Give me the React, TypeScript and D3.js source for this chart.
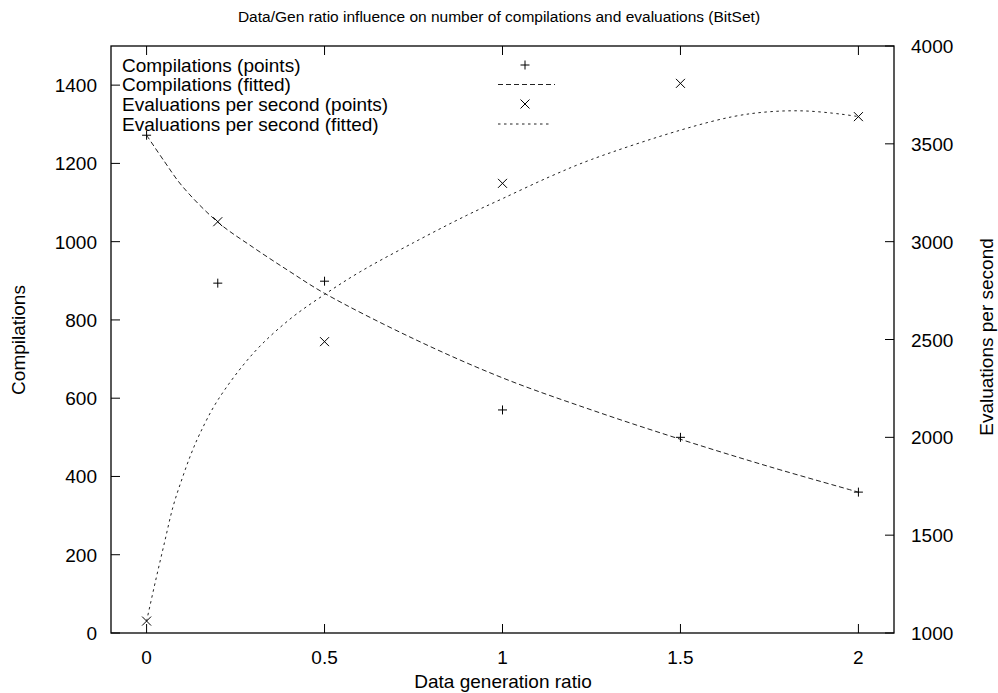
import React from "react";
import * as d3 from "d3";

const title = "Data/Gen ratio influence on number of compilations and evaluations (BitSet)";
const xLabel = "Data generation ratio";
const yLabel = "Compilations";
const y2Label = "Evaluations per second";

const ratios = [0, 0.2, 0.5, 1, 1.5, 2];
const compilations = [1272, 894, 899, 570, 500, 360];
const evaluations = [1061, 3102, 2489, 3298, 3809, 3639];

const compFitX = [0, 0.05, 0.1, 0.2, 0.3, 0.4, 0.5, 0.75, 1, 1.25, 1.5, 1.75, 2];
const compFitY = [1272, 1205, 1142, 1050, 985, 925, 868, 752, 652, 570, 495, 425, 360];

const evalFitX = [0, 0.025, 0.05, 0.075, 0.1, 0.125, 0.15, 0.2, 0.3, 0.4, 0.5, 0.6, 0.75, 0.9, 1, 1.133, 1.25, 1.5, 1.65, 1.75, 1.85, 1.95, 2];
const evalFitY = [1061, 1265, 1460, 1650, 1790, 1915, 2020, 2190, 2430, 2600, 2730, 2846, 2995, 3135, 3220, 3332, 3420, 3570, 3640, 3664, 3668, 3652, 3639];

const xTicks = [0, 0.5, 1, 1.5, 2];
const yTicks = [0, 200, 400, 600, 800, 1000, 1200, 1400];
const y2Ticks = [1000, 1500, 2000, 2500, 3000, 3500, 4000];

const legendItems = [
  { label: "Compilations (points)", kind: "plus" },
  { label: "Compilations (fitted)", kind: "dash" },
  { label: "Evaluations per second (points)", kind: "cross" },
  { label: "Evaluations per second (fitted)", kind: "dot" },
];

const W = 998;
const H = 693;
const L = 111, R = 894, T = 46, B = 633;
const FONT = "'Liberation Sans', Arial, sans-serif";
const INK = "#000";
const FS = 19;

export default function App() {
  const x = d3.scaleLinear().domain([-0.1, 2.1]).range([L, R]);
  const y = d3.scaleLinear().domain([0, 1500]).range([B, T]);
  const y2 = d3.scaleLinear().domain([1000, 4000]).range([B, T]);

  const compLine = d3
    .line<number>()
    .x((_, i) => x(compFitX[i]))
    .y((d) => y(d))
    .curve(d3.curveCatmullRom.alpha(0.5));
  const evalLine = d3
    .line<number>()
    .x((_, i) => x(evalFitX[i]))
    .y((d) => y2(d))
    .curve(d3.curveCatmullRom.alpha(0.5));

  const plus = (cx: number, cy: number, k: string) => (
    <g key={k} stroke={INK} strokeWidth={1}>
      <line x1={cx - 4.5} x2={cx + 4.5} y1={cy} y2={cy} />
      <line x1={cx} x2={cx} y1={cy - 4.5} y2={cy + 4.5} />
    </g>
  );
  const cross = (cx: number, cy: number, k: string) => (
    <g key={k} stroke={INK} strokeWidth={1}>
      <line x1={cx - 4.5} x2={cx + 4.5} y1={cy - 4.5} y2={cy + 4.5} />
      <line x1={cx - 4.5} x2={cx + 4.5} y1={cy + 4.5} y2={cy - 4.5} />
    </g>
  );

  const tk = 9;
  const legX = 122;
  const legRowY = [65, 84.5, 104, 124];

  return (
    <svg width={W} height={H} style={{ position: "absolute", left: 0, top: 0, background: "#fff" }} fontFamily={FONT}>
      <rect x={0} y={0} width={W} height={H} fill="#fff" />
      <text x={499} y={22} textAnchor="middle" fontSize={15.5} fill={INK}>
        {title}
      </text>

      {/* ticks */}
      <g stroke={INK} strokeWidth={1}>
        {xTicks.map((t) => (
          <g key={"xt" + t}>
            <line x1={x(t)} x2={x(t)} y1={B} y2={B - tk} />
            <line x1={x(t)} x2={x(t)} y1={T} y2={T + tk} />
          </g>
        ))}
        {yTicks.map((t) => (
          <line key={"yt" + t} x1={L} x2={L + tk} y1={y(t)} y2={y(t)} />
        ))}
        {y2Ticks.map((t) => (
          <line key={"y2t" + t} x1={R} x2={R - tk} y1={y2(t)} y2={y2(t)} />
        ))}
      </g>

      {/* tick labels */}
      <g fontSize={FS} fill={INK}>
        {xTicks.map((t) => (
          <text key={"xl" + t} x={x(t)} y={664} textAnchor="middle">
            {String(t)}
          </text>
        ))}
        {yTicks.map((t) => (
          <text key={"yl" + t} x={97} y={y(t) + 7} textAnchor="end">
            {String(t)}
          </text>
        ))}
        {y2Ticks.map((t) => (
          <text key={"y2l" + t} x={911} y={y2(t) + 7} textAnchor="start">
            {String(t)}
          </text>
        ))}
      </g>

      {/* axis labels */}
      <text x={503} y={688} textAnchor="middle" fontSize={FS} fill={INK}>
        {xLabel}
      </text>
      <text transform={`translate(25, 340) rotate(-90)`} textAnchor="middle" fontSize={FS} fill={INK}>
        {yLabel}
      </text>
      <text transform={`translate(993, 337) rotate(-90)`} textAnchor="middle" fontSize={FS} fill={INK}>
        {y2Label}
      </text>

      {/* fitted curves */}
      <path d={compLine(compFitY) || ""} fill="none" stroke="#222" strokeWidth={1} strokeDasharray="5,3" />
      <path d={evalLine(evalFitY) || ""} fill="none" stroke="#222" strokeWidth={1} strokeDasharray="2.5,3.5" />

      {/* points */}
      {ratios.map((r, i) => plus(x(r), y(compilations[i]), "p" + i))}
      {ratios.map((r, i) => cross(x(r), y2(evaluations[i]), "c" + i))}

      {/* legend */}
      <g fontSize={FS} fill={INK}>
        {legendItems.map((it, i) => (
          <text key={"lg" + i} x={legX} y={legRowY[i] + 6.5}>
            {it.label}
          </text>
        ))}
      </g>
      {plus(525, legRowY[0], "lp")}
      <line x1={498} x2={555} y1={legRowY[1]} y2={legRowY[1]} stroke="#222" strokeWidth={1} strokeDasharray="5,3" />
      {cross(525, legRowY[2], "lc")}
      <line x1={498} x2={552} y1={legRowY[3]} y2={legRowY[3]} stroke="#222" strokeWidth={1} strokeDasharray="2.5,3.5" />

      {/* border */}
      <rect x={L} y={T} width={R - L} height={B - T} fill="none" stroke={INK} strokeWidth={1.3} />
    </svg>
  );
}
